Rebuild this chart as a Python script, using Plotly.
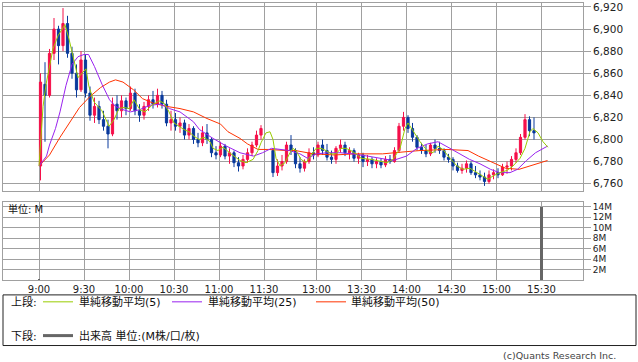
import plotly.graph_objects as go

# ---------------- data ----------------
tick_labels = ["9:00", "9:30", "10:00", "10:30", "11:00", "11:30",
               "13:00", "13:30", "14:00", "14:30", "15:00", "15:30"]
price_ticks = [6760, 6780, 6800, 6820, 6840, 6860, 6880, 6900, 6920]
vol_ticks = [2, 4, 6, 8, 10, 12, 14]

BAR_MIN = 3          # minutes per candle
LUNCH_GAP = 5        # chart gap (minutes) between 11:30 and 12:30

am_open = [6776, 6850, 6840, 6878, 6900, 6885, 6905, 6878, 6860, 6845,
           6872, 6842, 6822, 6830, 6818, 6812, 6805, 6832, 6826, 6835,
           6828, 6842, 6826, 6822, 6830, 6836, 6832, 6840, 6832, 6815,
           6818, 6812, 6815, 6804, 6810, 6800, 6797, 6806, 6800, 6788,
           6786, 6794, 6785, 6788, 6779, 6776, 6782, 6788, 6795, 6804]
am_high = [6860, 6870, 6882, 6910, 6903, 6919, 6912, 6884, 6868, 6880,
           6877, 6848, 6838, 6835, 6826, 6818, 6838, 6840, 6840, 6838,
           6848, 6846, 6832, 6834, 6840, 6844, 6846, 6844, 6836, 6826,
           6824, 6820, 6818, 6814, 6812, 6806, 6812, 6814, 6802, 6794,
           6798, 6796, 6792, 6790, 6784, 6786, 6792, 6798, 6808, 6813]
am_low = [6763, 6798, 6838, 6872, 6868, 6880, 6874, 6855, 6838, 6843,
          6838, 6817, 6815, 6814, 6808, 6792, 6803, 6818, 6820, 6822,
          6826, 6822, 6816, 6818, 6826, 6828, 6829, 6828, 6812, 6808,
          6808, 6806, 6800, 6800, 6796, 6793, 6794, 6796, 6784, 6782,
          6784, 6782, 6778, 6775, 6771, 6773, 6779, 6785, 6793, 6800]
am_close = [6852, 6840, 6878, 6900, 6885, 6905, 6878, 6860, 6845, 6872,
            6842, 6822, 6830, 6818, 6812, 6805, 6832, 6826, 6835, 6828,
            6842, 6826, 6822, 6830, 6836, 6832, 6840, 6832, 6815, 6818,
            6812, 6815, 6804, 6810, 6800, 6797, 6806, 6800, 6788, 6786,
            6794, 6785, 6788, 6779, 6776, 6782, 6788, 6795, 6804, 6810]

pm_open = [6790, 6770, 6776, 6780, 6795, 6790, 6778, 6774, 6780, 6788,
           6786, 6795, 6790, 6784, 6782, 6792, 6795, 6788, 6790, 6783,
           6786, 6780, 6782, 6778, 6780, 6777, 6782, 6780, 6790, 6812,
           6820, 6810, 6802, 6793, 6790, 6787, 6795, 6792, 6790, 6784,
           6782, 6776, 6772, 6774, 6778, 6770, 6768, 6766, 6762, 6768,
           6770, 6768, 6775, 6776, 6782, 6788, 6802, 6818, 6808]
pm_high = [6792, 6782, 6786, 6798, 6804, 6792, 6784, 6782, 6792, 6793,
           6798, 6800, 6796, 6790, 6794, 6800, 6798, 6793, 6792, 6788,
           6788, 6786, 6784, 6783, 6783, 6785, 6786, 6793, 6815, 6825,
           6822, 6815, 6804, 6797, 6795, 6797, 6800, 6798, 6792, 6787,
           6784, 6779, 6778, 6781, 6780, 6776, 6772, 6770, 6772, 6773,
           6774, 6778, 6780, 6785, 6792, 6805, 6823, 6821, 6820]
pm_low = [6766, 6767, 6772, 6778, 6786, 6774, 6770, 6771, 6778, 6782,
          6784, 6786, 6781, 6778, 6778, 6788, 6785, 6782, 6780, 6778,
          6775, 6776, 6774, 6774, 6774, 6775, 6778, 6779, 6788, 6808,
          6806, 6798, 6790, 6787, 6784, 6785, 6788, 6787, 6781, 6779,
          6772, 6770, 6769, 6770, 6768, 6765, 6763, 6758, 6760, 6764,
          6765, 6767, 6769, 6772, 6779, 6786, 6800, 6803, 6800]
pm_close = [6770, 6776, 6780, 6795, 6790, 6778, 6774, 6780, 6788, 6786,
            6795, 6790, 6784, 6782, 6792, 6795, 6788, 6790, 6783, 6786,
            6780, 6782, 6778, 6780, 6777, 6782, 6780, 6790, 6812, 6820,
            6810, 6802, 6793, 6790, 6787, 6795, 6792, 6790, 6784, 6782,
            6776, 6772, 6774, 6778, 6770, 6768, 6766, 6762, 6768, 6770,
            6768, 6775, 6776, 6782, 6788, 6802, 6818, 6808, 6806]

# moving averages (x = session minute, 0 = 9:00, 12:30 = 155)
ma5_x = [0, 1.3, 2.7, 4.7, 7.3, 9.3, 12.7, 15.3, 17.3, 20, 22.7, 26, 29.3, 31.3,
         33.3, 36.7, 42, 46.7, 50, 53.3, 56.7, 60, 63.3, 67.3, 70.7, 75.3, 80,
         83.3, 86.7, 90, 93.3, 96.7, 100, 103.3, 106.7, 110, 114, 116, 119.3,
         122.7, 128, 134, 138, 142.7, 146, 148, 151.3, 154, 156, 158, 160.7,
         164, 167.3, 169.3, 171.3, 174.7, 178, 181.3, 184.7, 188, 191.3, 194.7,
         198, 201.3, 204.7, 208, 211.3, 214.7, 221.3, 228.7, 232, 236, 240.7,
         244, 246, 249.3, 254, 258.7, 262.7, 266, 269.3, 274, 278.7, 282.7,
         287.3, 292, 296, 299.3, 302.7, 307.3, 312, 316, 320.7, 324, 327.3,
         329.3, 332.7, 336, 339.3]
ma5_y = [6776, 6800, 6830, 6850, 6870, 6882, 6894, 6900, 6904, 6891, 6875, 6856,
         6861, 6864, 6848, 6834, 6826, 6812, 6818, 6828, 6829, 6828, 6836, 6827,
         6825, 6831, 6835, 6833, 6825, 6815, 6812, 6809, 6807, 6803, 6800, 6802,
         6798, 6792, 6790, 6793, 6787, 6781, 6779, 6782, 6790, 6797, 6806, 6807,
         6800, 6783, 6776, 6779, 6788, 6792, 6790, 6782, 6779, 6785, 6792, 6792,
         6790, 6787, 6787, 6792, 6792, 6790, 6787, 6783, 6782, 6780, 6779, 6782,
         6792, 6810, 6815, 6808, 6798, 6790, 6788, 6794, 6791, 6783, 6776, 6773,
         6774, 6770, 6767, 6764, 6767, 6770, 6772, 6776, 6783, 6792, 6807, 6810,
         6806, 6798, 6793]

ma25_x = [0, 5, 7, 11, 14, 18, 22, 26, 30, 33, 37, 42, 47, 51, 56, 61, 67, 74,
          81, 87, 94, 103, 107, 116, 125, 134, 143, 149, 155, 161, 167, 174,
          179, 185, 192, 201, 209, 219, 227, 236, 245, 252, 259, 266, 274, 281,
          287, 294, 301, 307, 314, 319, 325, 331, 336, 339]
ma25_y = [6776, 6785, 6795, 6810, 6825, 6849, 6868, 6875, 6877, 6877, 6866,
          6850, 6836, 6830, 6827, 6825, 6827, 6831, 6832, 6828, 6825, 6816,
          6809, 6801, 6794, 6788, 6785, 6788, 6792, 6791, 6790, 6787, 6783,
          6787, 6788, 6788, 6787, 6785, 6783, 6781, 6785, 6792, 6796, 6798,
          6792, 6787, 6782, 6778, 6773, 6770, 6770, 6773, 6781, 6788, 6792, 6794]

ma50_x = [0, 7, 14, 21, 27, 34, 41, 47, 51, 56, 63, 69, 76, 85, 94, 103, 112,
          121, 126, 134, 139, 146, 153, 165, 171, 183, 197, 210, 229, 245, 254,
          272, 286, 293, 303, 311, 320, 329, 339]
ma50_y = [6776, 6786, 6802, 6817, 6829, 6839, 6847, 6852, 6854, 6852, 6845,
          6837, 6833, 6830, 6828, 6825, 6819, 6814, 6807, 6801, 6796, 6791,
          6791, 6790, 6790, 6787, 6786, 6787, 6787, 6789, 6790, 6791, 6790,
          6785, 6779, 6774, 6773, 6777, 6781]

vol_times = ["9:00", "15:30"]
vol_values = [0.2, 14.1]   # M

# ---------------- helpers ----------------
def session_min(hhmm):
    h, m = map(int, hhmm.split(":"))
    t = h * 60 + m
    if t <= 11 * 60 + 30:
        return t - 9 * 60
    return 150 + LUNCH_GAP + (t - (12 * 60 + 30))

am_x = [BAR_MIN * k + 1 for k in range(len(am_open))]
pm_x = [session_min("12:30") + BAR_MIN * j + 1 for j in range(len(pm_open))]
cx = am_x + pm_x
co = am_open + pm_open
ch = am_high + pm_high
cl = am_low + pm_low
cc = am_close + pm_close

tickpos = [session_min(t) for t in tick_labels]
vol_x = [session_min(t) for t in vol_times]

# pixel helpers for layout (plot area: x 3..583, y 1..280)
W, H = 638, 362
L, R, T, B = 3, 55, 1, 82
PW, PH = W - L - R, H - T - B
def px(x):
    return (x - L) / PW
def py(y):
    return (H - B - y) / PH

RED = "#f5104a"
BLUE = "#0a3a9c"
GRID = "#a0a0a0"
FONT = "DejaVu Sans, Noto Sans CJK JP, sans-serif"

fig = go.Figure()
fig.add_trace(go.Candlestick(
    x=cx, open=co, high=ch, low=cl, close=cc,
    increasing=dict(line=dict(color=RED, width=1), fillcolor=RED),
    decreasing=dict(line=dict(color=BLUE, width=1), fillcolor=BLUE),
    whiskerwidth=0, showlegend=False, hoverinfo="skip",
    xaxis="x", yaxis="y"))
fig.add_trace(go.Scatter(x=ma50_x, y=ma50_y, mode="lines",
                         line=dict(color="#ff3300", width=1),
                         showlegend=False, xaxis="x", yaxis="y"))
fig.add_trace(go.Scatter(x=ma25_x, y=ma25_y, mode="lines",
                         line=dict(color="#9922ee", width=1),
                         showlegend=False, xaxis="x", yaxis="y"))
fig.add_trace(go.Scatter(x=ma5_x, y=ma5_y, mode="lines",
                         line=dict(color="#99cc00", width=1),
                         showlegend=False, xaxis="x", yaxis="y"))
fig.add_trace(go.Bar(x=vol_x, y=vol_values, width=1.4,
                     marker=dict(color="#666666", line=dict(width=0)),
                     showlegend=False, xaxis="x2", yaxis="y2"))

xr = [(L - 39) / 1.5, (L + PW - 39) / 1.5]
top_dom = [py(190), 1]
bot_dom = [0, py(201)]

common_x = dict(range=xr, tickvals=tickpos, showgrid=True, gridcolor=GRID,
                gridwidth=1, zeroline=False, showline=True, mirror=True,
                linecolor=GRID, linewidth=1, ticks="", fixedrange=True)
fig.update_layout(
    width=W, height=H,
    margin=dict(l=L, r=R, t=T, b=B, pad=0),
    paper_bgcolor="white", plot_bgcolor="white",
    font=dict(family=FONT, size=10, color="#222222"),
    showlegend=False,
    bargap=0,
    boxgap=0.3,
    xaxis=dict(common_x, domain=[0, 1], anchor="y", showticklabels=False,
               rangeslider=dict(visible=False)),
    xaxis2=dict(common_x, domain=[0, 1], anchor="y2", ticktext=tick_labels,
                showticklabels=True, tickfont=dict(size=10, color="#222222")),
    yaxis=dict(domain=top_dom, anchor="x", side="right",
               range=[6753.7, 6923.6], tickvals=price_ticks,
               ticktext=[f"{v:,}" for v in price_ticks],
               ticks="outside", ticklen=7, tickcolor=GRID,
               showgrid=True, gridcolor=GRID, zeroline=False,
               showline=True, mirror=True, linecolor=GRID,
               ticklabeloverflow="allow",
               tickfont=dict(size=10.5, color="#222222")),
    yaxis2=dict(domain=bot_dom, anchor="x2", side="right",
                range=[0, 15], tickvals=vol_ticks,
                ticktext=[f"{v}M" for v in vol_ticks],
                ticks="outside", ticklen=7, tickcolor=GRID,
                showgrid=True, gridcolor=GRID, zeroline=False,
                showline=True, mirror=True, linecolor=GRID,
                ticklabeloverflow="allow",
                tickfont=dict(size=9, color="#222222")),
)

shapes = []
# legend box
shapes.append(dict(type="rect", xref="paper", yref="paper",
                   x0=px(3), x1=px(636), y0=py(346), y1=py(295),
                   line=dict(color="#222222", width=1)))
legend_lines = [(43, 73, 302, "#99cc00", 1), (172, 202, 302, "#9922ee", 1),
                (316, 346, 302, "#ff3300", 1), (43, 73, 336, "#666666", 3)]
for x0, x1, y, c, w in legend_lines:
    shapes.append(dict(type="line", xref="paper", yref="paper",
                       x0=px(x0), x1=px(x1), y0=py(y), y1=py(y),
                       line=dict(color=c, width=w)))
fig.update_layout(shapes=shapes)

texts = [("上段:", 9, 302), ("単純移動平均(5)", 77, 302),
         ("単純移動平均(25)", 206, 302), ("単純移動平均(50)", 349, 302),
         ("下段:", 9, 336), ("出来高 単位:(M株/口/枚)", 77, 336)]
for t, x, y in texts:
    fig.add_annotation(text=t, xref="paper", yref="paper", x=px(x), y=py(y),
                       xanchor="left", yanchor="middle", showarrow=False,
                       font=dict(size=11, color="#111111", family=FONT))
fig.add_annotation(text="単位: M", xref="paper", yref="paper",
                   x=px(6), y=py(208), xanchor="left", yanchor="middle",
                   showarrow=False, font=dict(size=10, color="#111111", family=FONT))
fig.add_annotation(text="(c)Quants Research Inc.", xref="paper", yref="paper",
                   x=px(618), y=py(356), xanchor="right", yanchor="middle",
                   showarrow=False, font=dict(size=9.5, color="#444444", family=FONT))

fig.write_html("out.html")
